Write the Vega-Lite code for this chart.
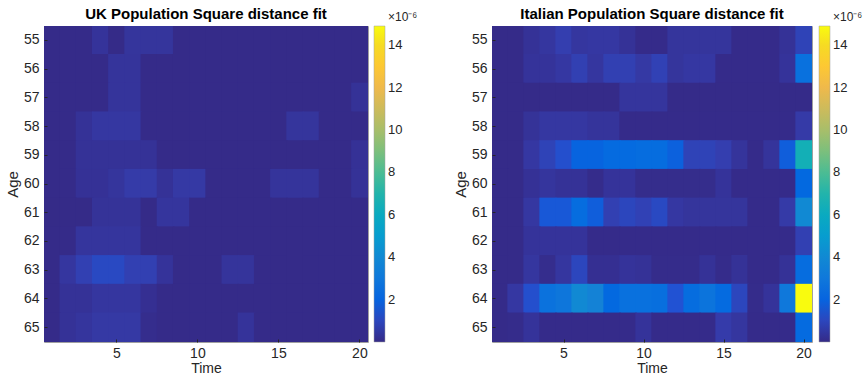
{
  "$schema": "https://vega.github.io/schema/vega-lite/v6.json",
  "padding": {"left": 4, "top": 6, "right": 0, "bottom": 0},
  "background": "white",
  "config": {
    "font": "Liberation Sans",
    "view": {"stroke": "#a0a0a0", "strokeWidth": 1},
    "axis": {"labelFontSize": 14, "labelColor": "#262626", "titleFontSize": 15, "titleFontWeight": "normal", "titleColor": "#262626", "domain": false, "grid": false, "tickColor": "#262626", "tickSize": -3, "labelPadding": 8},
    "axisX": {"labelPadding": 7, "titleFontSize": 14, "titlePadding": 1},
    "title": {"fontSize": 15, "fontWeight": "bold", "color": "#000000", "offset": -10, "frame": "group"}
  },
  "datasets": {
    "uk": [
      {"time":1,"age":55,"value":0.03},{"time":2,"age":55,"value":0.03},{"time":3,"age":55,"value":0.03},{"time":4,"age":55,"value":0.35},{"time":5,"age":55,"value":0.02},{"time":6,"age":55,"value":0.4},{"time":7,"age":55,"value":0.4},{"time":8,"age":55,"value":0.4},{"time":9,"age":55,"value":0.03},{"time":10,"age":55,"value":0.03},{"time":11,"age":55,"value":0.03},{"time":12,"age":55,"value":0.03},{"time":13,"age":55,"value":0.03},{"time":14,"age":55,"value":0.03},{"time":15,"age":55,"value":0.03},{"time":16,"age":55,"value":0.03},{"time":17,"age":55,"value":0.03},{"time":18,"age":55,"value":0.03},{"time":19,"age":55,"value":0.03},{"time":20,"age":55,"value":0.03},
      {"time":1,"age":56,"value":0.03},{"time":2,"age":56,"value":0.03},{"time":3,"age":56,"value":0.03},{"time":4,"age":56,"value":0.03},{"time":5,"age":56,"value":0.38},{"time":6,"age":56,"value":0.38},{"time":7,"age":56,"value":0.03},{"time":8,"age":56,"value":0.03},{"time":9,"age":56,"value":0.03},{"time":10,"age":56,"value":0.03},{"time":11,"age":56,"value":0.03},{"time":12,"age":56,"value":0.03},{"time":13,"age":56,"value":0.03},{"time":14,"age":56,"value":0.03},{"time":15,"age":56,"value":0.03},{"time":16,"age":56,"value":0.03},{"time":17,"age":56,"value":0.03},{"time":18,"age":56,"value":0.03},{"time":19,"age":56,"value":0.03},{"time":20,"age":56,"value":0.03},
      {"time":1,"age":57,"value":0.03},{"time":2,"age":57,"value":0.03},{"time":3,"age":57,"value":0.03},{"time":4,"age":57,"value":0.03},{"time":5,"age":57,"value":0.38},{"time":6,"age":57,"value":0.38},{"time":7,"age":57,"value":0.03},{"time":8,"age":57,"value":0.03},{"time":9,"age":57,"value":0.03},{"time":10,"age":57,"value":0.03},{"time":11,"age":57,"value":0.03},{"time":12,"age":57,"value":0.03},{"time":13,"age":57,"value":0.03},{"time":14,"age":57,"value":0.03},{"time":15,"age":57,"value":0.03},{"time":16,"age":57,"value":0.03},{"time":17,"age":57,"value":0.03},{"time":18,"age":57,"value":0.03},{"time":19,"age":57,"value":0.03},{"time":20,"age":57,"value":0.3},
      {"time":1,"age":58,"value":0.03},{"time":2,"age":58,"value":0.03},{"time":3,"age":58,"value":0.3},{"time":4,"age":58,"value":0.48},{"time":5,"age":58,"value":0.48},{"time":6,"age":58,"value":0.48},{"time":7,"age":58,"value":0.03},{"time":8,"age":58,"value":0.03},{"time":9,"age":58,"value":0.03},{"time":10,"age":58,"value":0.03},{"time":11,"age":58,"value":0.03},{"time":12,"age":58,"value":0.03},{"time":13,"age":58,"value":0.03},{"time":14,"age":58,"value":0.03},{"time":15,"age":58,"value":0.03},{"time":16,"age":58,"value":0.4},{"time":17,"age":58,"value":0.4},{"time":18,"age":58,"value":0.03},{"time":19,"age":58,"value":0.03},{"time":20,"age":58,"value":0.03},
      {"time":1,"age":59,"value":0.03},{"time":2,"age":59,"value":0.03},{"time":3,"age":59,"value":0.3},{"time":4,"age":59,"value":0.3},{"time":5,"age":59,"value":0.3},{"time":6,"age":59,"value":0.3},{"time":7,"age":59,"value":0.3},{"time":8,"age":59,"value":0.03},{"time":9,"age":59,"value":0.03},{"time":10,"age":59,"value":0.03},{"time":11,"age":59,"value":0.03},{"time":12,"age":59,"value":0.03},{"time":13,"age":59,"value":0.03},{"time":14,"age":59,"value":0.03},{"time":15,"age":59,"value":0.03},{"time":16,"age":59,"value":0.03},{"time":17,"age":59,"value":0.03},{"time":18,"age":59,"value":0.03},{"time":19,"age":59,"value":0.03},{"time":20,"age":59,"value":0.28},
      {"time":1,"age":60,"value":0.03},{"time":2,"age":60,"value":0.03},{"time":3,"age":60,"value":0.28},{"time":4,"age":60,"value":0.28},{"time":5,"age":60,"value":0.4},{"time":6,"age":60,"value":0.62},{"time":7,"age":60,"value":0.62},{"time":8,"age":60,"value":0.3},{"time":9,"age":60,"value":0.55},{"time":10,"age":60,"value":0.55},{"time":11,"age":60,"value":0.03},{"time":12,"age":60,"value":0.03},{"time":13,"age":60,"value":0.03},{"time":14,"age":60,"value":0.03},{"time":15,"age":60,"value":0.38},{"time":16,"age":60,"value":0.38},{"time":17,"age":60,"value":0.38},{"time":18,"age":60,"value":0.03},{"time":19,"age":60,"value":0.03},{"time":20,"age":60,"value":0.3},
      {"time":1,"age":61,"value":0.02},{"time":2,"age":61,"value":0.02},{"time":3,"age":61,"value":0.02},{"time":4,"age":61,"value":0.32},{"time":5,"age":61,"value":0.32},{"time":6,"age":61,"value":0.32},{"time":7,"age":61,"value":0.02},{"time":8,"age":61,"value":0.42},{"time":9,"age":61,"value":0.42},{"time":10,"age":61,"value":0.03},{"time":11,"age":61,"value":0.03},{"time":12,"age":61,"value":0.03},{"time":13,"age":61,"value":0.03},{"time":14,"age":61,"value":0.03},{"time":15,"age":61,"value":0.03},{"time":16,"age":61,"value":0.03},{"time":17,"age":61,"value":0.03},{"time":18,"age":61,"value":0.03},{"time":19,"age":61,"value":0.03},{"time":20,"age":61,"value":0.03},
      {"time":1,"age":62,"value":0.03},{"time":2,"age":62,"value":0.03},{"time":3,"age":62,"value":0.42},{"time":4,"age":62,"value":0.42},{"time":5,"age":62,"value":0.42},{"time":6,"age":62,"value":0.42},{"time":7,"age":62,"value":0.03},{"time":8,"age":62,"value":0.03},{"time":9,"age":62,"value":0.03},{"time":10,"age":62,"value":0.03},{"time":11,"age":62,"value":0.03},{"time":12,"age":62,"value":0.03},{"time":13,"age":62,"value":0.03},{"time":14,"age":62,"value":0.03},{"time":15,"age":62,"value":0.03},{"time":16,"age":62,"value":0.03},{"time":17,"age":62,"value":0.03},{"time":18,"age":62,"value":0.03},{"time":19,"age":62,"value":0.03},{"time":20,"age":62,"value":0.03},
      {"time":1,"age":63,"value":0.03},{"time":2,"age":63,"value":0.45},{"time":3,"age":63,"value":0.8},{"time":4,"age":63,"value":1.1},{"time":5,"age":63,"value":1.1},{"time":6,"age":63,"value":0.8},{"time":7,"age":63,"value":0.8},{"time":8,"age":63,"value":0.35},{"time":9,"age":63,"value":0.03},{"time":10,"age":63,"value":0.03},{"time":11,"age":63,"value":0.03},{"time":12,"age":63,"value":0.38},{"time":13,"age":63,"value":0.38},{"time":14,"age":63,"value":0.03},{"time":15,"age":63,"value":0.03},{"time":16,"age":63,"value":0.03},{"time":17,"age":63,"value":0.03},{"time":18,"age":63,"value":0.03},{"time":19,"age":63,"value":0.03},{"time":20,"age":63,"value":0.03},
      {"time":1,"age":64,"value":0.03},{"time":2,"age":64,"value":0.3},{"time":3,"age":64,"value":0.3},{"time":4,"age":64,"value":0.45},{"time":5,"age":64,"value":0.45},{"time":6,"age":64,"value":0.45},{"time":7,"age":64,"value":0.2},{"time":8,"age":64,"value":0.03},{"time":9,"age":64,"value":0.03},{"time":10,"age":64,"value":0.03},{"time":11,"age":64,"value":0.03},{"time":12,"age":64,"value":0.03},{"time":13,"age":64,"value":0.03},{"time":14,"age":64,"value":0.03},{"time":15,"age":64,"value":0.03},{"time":16,"age":64,"value":0.03},{"time":17,"age":64,"value":0.03},{"time":18,"age":64,"value":0.03},{"time":19,"age":64,"value":0.03},{"time":20,"age":64,"value":0.03},
      {"time":1,"age":65,"value":0.03},{"time":2,"age":65,"value":0.3},{"time":3,"age":65,"value":0.42},{"time":4,"age":65,"value":0.55},{"time":5,"age":65,"value":0.55},{"time":6,"age":65,"value":0.55},{"time":7,"age":65,"value":0.12},{"time":8,"age":65,"value":0.03},{"time":9,"age":65,"value":0.03},{"time":10,"age":65,"value":0.03},{"time":11,"age":65,"value":0.03},{"time":12,"age":65,"value":0.03},{"time":13,"age":65,"value":0.35},{"time":14,"age":65,"value":0.03},{"time":15,"age":65,"value":0.03},{"time":16,"age":65,"value":0.03},{"time":17,"age":65,"value":0.03},{"time":18,"age":65,"value":0.03},{"time":19,"age":65,"value":0.03},{"time":20,"age":65,"value":0.03}
    ],
    "it": [
      {"time":1,"age":55,"value":0.03},{"time":2,"age":55,"value":0.03},{"time":3,"age":55,"value":0.3},{"time":4,"age":55,"value":0.45},{"time":5,"age":55,"value":0.75},{"time":6,"age":55,"value":0.45},{"time":7,"age":55,"value":0.5},{"time":8,"age":55,"value":0.5},{"time":9,"age":55,"value":0.3},{"time":10,"age":55,"value":0.05},{"time":11,"age":55,"value":0.05},{"time":12,"age":55,"value":0.4},{"time":13,"age":55,"value":0.4},{"time":14,"age":55,"value":0.4},{"time":15,"age":55,"value":0.4},{"time":16,"age":55,"value":0.05},{"time":17,"age":55,"value":0.05},{"time":18,"age":55,"value":0.05},{"time":19,"age":55,"value":0.3},{"time":20,"age":55,"value":0.9},
      {"time":1,"age":56,"value":0.03},{"time":2,"age":56,"value":0.03},{"time":3,"age":56,"value":0.35},{"time":4,"age":56,"value":0.35},{"time":5,"age":56,"value":0.5},{"time":6,"age":56,"value":0.8},{"time":7,"age":56,"value":0.45},{"time":8,"age":56,"value":0.8},{"time":9,"age":56,"value":0.8},{"time":10,"age":56,"value":0.55},{"time":11,"age":56,"value":0.85},{"time":12,"age":56,"value":0.4},{"time":13,"age":56,"value":0.5},{"time":14,"age":56,"value":0.5},{"time":15,"age":56,"value":0.05},{"time":16,"age":56,"value":0.05},{"time":17,"age":56,"value":0.05},{"time":18,"age":56,"value":0.05},{"time":19,"age":56,"value":0.35},{"time":20,"age":56,"value":2.6},
      {"time":1,"age":57,"value":0.03},{"time":2,"age":57,"value":0.03},{"time":3,"age":57,"value":0.03},{"time":4,"age":57,"value":0.03},{"time":5,"age":57,"value":0.03},{"time":6,"age":57,"value":0.03},{"time":7,"age":57,"value":0.03},{"time":8,"age":57,"value":0.03},{"time":9,"age":57,"value":0.42},{"time":10,"age":57,"value":0.42},{"time":11,"age":57,"value":0.42},{"time":12,"age":57,"value":0.03},{"time":13,"age":57,"value":0.03},{"time":14,"age":57,"value":0.03},{"time":15,"age":57,"value":0.03},{"time":16,"age":57,"value":0.03},{"time":17,"age":57,"value":0.03},{"time":18,"age":57,"value":0.03},{"time":19,"age":57,"value":0.03},{"time":20,"age":57,"value":0.03},
      {"time":1,"age":58,"value":0.03},{"time":2,"age":58,"value":0.03},{"time":3,"age":58,"value":0.32},{"time":4,"age":58,"value":0.48},{"time":5,"age":58,"value":0.48},{"time":6,"age":58,"value":0.48},{"time":7,"age":58,"value":0.38},{"time":8,"age":58,"value":0.38},{"time":9,"age":58,"value":0.05},{"time":10,"age":58,"value":0.05},{"time":11,"age":58,"value":0.05},{"time":12,"age":58,"value":0.05},{"time":13,"age":58,"value":0.05},{"time":14,"age":58,"value":0.05},{"time":15,"age":58,"value":0.05},{"time":16,"age":58,"value":0.05},{"time":17,"age":58,"value":0.05},{"time":18,"age":58,"value":0.05},{"time":19,"age":58,"value":0.05},{"time":20,"age":58,"value":0.6},
      {"time":1,"age":59,"value":0.03},{"time":2,"age":59,"value":0.03},{"time":3,"age":59,"value":0.5},{"time":4,"age":59,"value":0.9},{"time":5,"age":59,"value":1.3},{"time":6,"age":59,"value":2.0},{"time":7,"age":59,"value":2.0},{"time":8,"age":59,"value":2.3},{"time":9,"age":59,"value":2.3},{"time":10,"age":59,"value":2.4},{"time":11,"age":59,"value":2.4},{"time":12,"age":59,"value":1.9},{"time":13,"age":59,"value":0.9},{"time":14,"age":59,"value":0.9},{"time":15,"age":59,"value":0.75},{"time":16,"age":59,"value":0.38},{"time":17,"age":59,"value":0.05},{"time":18,"age":59,"value":0.38},{"time":19,"age":59,"value":1.8},{"time":20,"age":59,"value":6.5},
      {"time":1,"age":60,"value":0.03},{"time":2,"age":60,"value":0.03},{"time":3,"age":60,"value":0.28},{"time":4,"age":60,"value":0.42},{"time":5,"age":60,"value":0.3},{"time":6,"age":60,"value":0.3},{"time":7,"age":60,"value":0.08},{"time":8,"age":60,"value":0.35},{"time":9,"age":60,"value":0.35},{"time":10,"age":60,"value":0.1},{"time":11,"age":60,"value":0.1},{"time":12,"age":60,"value":0.1},{"time":13,"age":60,"value":0.1},{"time":14,"age":60,"value":0.1},{"time":15,"age":60,"value":0.35},{"time":16,"age":60,"value":0.05},{"time":17,"age":60,"value":0.05},{"time":18,"age":60,"value":0.05},{"time":19,"age":60,"value":0.05},{"time":20,"age":60,"value":2.2},
      {"time":1,"age":61,"value":0.03},{"time":2,"age":61,"value":0.03},{"time":3,"age":61,"value":0.48},{"time":4,"age":61,"value":1.6},{"time":5,"age":61,"value":1.6},{"time":6,"age":61,"value":2.4},{"time":7,"age":61,"value":1.8},{"time":8,"age":61,"value":0.8},{"time":9,"age":61,"value":1.0},{"time":10,"age":61,"value":0.85},{"time":11,"age":61,"value":1.1},{"time":12,"age":61,"value":0.5},{"time":13,"age":61,"value":0.4},{"time":14,"age":61,"value":0.4},{"time":15,"age":61,"value":0.4},{"time":16,"age":61,"value":0.4},{"time":17,"age":61,"value":0.05},{"time":18,"age":61,"value":0.05},{"time":19,"age":61,"value":0.6},{"time":20,"age":61,"value":4.0},
      {"time":1,"age":62,"value":0.03},{"time":2,"age":62,"value":0.03},{"time":3,"age":62,"value":0.35},{"time":4,"age":62,"value":0.35},{"time":5,"age":62,"value":0.35},{"time":6,"age":62,"value":0.35},{"time":7,"age":62,"value":0.05},{"time":8,"age":62,"value":0.05},{"time":9,"age":62,"value":0.05},{"time":10,"age":62,"value":0.05},{"time":11,"age":62,"value":0.05},{"time":12,"age":62,"value":0.05},{"time":13,"age":62,"value":0.05},{"time":14,"age":62,"value":0.05},{"time":15,"age":62,"value":0.05},{"time":16,"age":62,"value":0.05},{"time":17,"age":62,"value":0.05},{"time":18,"age":62,"value":0.05},{"time":19,"age":62,"value":0.05},{"time":20,"age":62,"value":0.8},
      {"time":1,"age":63,"value":0.03},{"time":2,"age":63,"value":0.03},{"time":3,"age":63,"value":0.45},{"time":4,"age":63,"value":0.12},{"time":5,"age":63,"value":0.45},{"time":6,"age":63,"value":1.0},{"time":7,"age":63,"value":0.2},{"time":8,"age":63,"value":0.2},{"time":9,"age":63,"value":0.35},{"time":10,"age":63,"value":0.3},{"time":11,"age":63,"value":0.08},{"time":12,"age":63,"value":0.08},{"time":13,"age":63,"value":0.08},{"time":14,"age":63,"value":0.3},{"time":15,"age":63,"value":0.08},{"time":16,"age":63,"value":0.3},{"time":17,"age":63,"value":0.05},{"time":18,"age":63,"value":0.05},{"time":19,"age":63,"value":0.3},{"time":20,"age":63,"value":2.4},
      {"time":1,"age":64,"value":0.03},{"time":2,"age":64,"value":0.5},{"time":3,"age":64,"value":1.3},{"time":4,"age":64,"value":2.7},{"time":5,"age":64,"value":2.9},{"time":6,"age":64,"value":4.0},{"time":7,"age":64,"value":3.6},{"time":8,"age":64,"value":2.2},{"time":9,"age":64,"value":2.6},{"time":10,"age":64,"value":2.6},{"time":11,"age":64,"value":2.5},{"time":12,"age":64,"value":1.4},{"time":13,"age":64,"value":2.4},{"time":14,"age":64,"value":2.8},{"time":15,"age":64,"value":2.3},{"time":16,"age":64,"value":1.0},{"time":17,"age":64,"value":0.08},{"time":18,"age":64,"value":0.35},{"time":19,"age":64,"value":3.0},{"time":20,"age":64,"value":14.9},
      {"time":1,"age":65,"value":0.03},{"time":2,"age":65,"value":0.08},{"time":3,"age":65,"value":0.35},{"time":4,"age":65,"value":0.05},{"time":5,"age":65,"value":0.05},{"time":6,"age":65,"value":0.05},{"time":7,"age":65,"value":0.05},{"time":8,"age":65,"value":0.05},{"time":9,"age":65,"value":0.05},{"time":10,"age":65,"value":0.35},{"time":11,"age":65,"value":0.05},{"time":12,"age":65,"value":0.05},{"time":13,"age":65,"value":0.05},{"time":14,"age":65,"value":0.05},{"time":15,"age":65,"value":0.65},{"time":16,"age":65,"value":0.45},{"time":17,"age":65,"value":0.05},{"time":18,"age":65,"value":0.05},{"time":19,"age":65,"value":0.05},{"time":20,"age":65,"value":2.3}
    ]
  },
  "hconcat": [
    {
      "data": {"name": "uk"},
      "title": "UK Population Square distance fit",
      "width": 324,
      "height": 316,
      "mark": {"type": "rect", "width": {"band": 1.08}, "height": {"band": 1.05}, "clip": true},
      "encoding": {
        "x": {"field": "time", "type": "ordinal", "title": "Time", "axis": {"values": [5, 10, 15, 20], "labelAngle": 0}},
        "y": {"field": "age", "type": "ordinal", "title": "Age", "axis": {"titlePadding": 3}},
        "color": {
          "field": "value", "type": "quantitative",
          "scale": {"domain": [0, 14.9], "interpolate": "rgb", "range": ["#352a87","#353dad","#2053d4","#0268e1","#0d75dc","#1481d6","#108ed2","#079ccf","#06a7c6","#0faeb9","#25b5a9","#42bb98","#65be86","#87bf77","#a5be6b","#c0bc60","#d9ba56","#f1b94a","#ffc337","#fad32a","#f5de21","#f9fb0e"]},
          "legend": {"orient": "none", "direction": "vertical", "type": "gradient", "legendX": 330, "legendY": -14, "gradientLength": 316, "gradientThickness": 11, "values": [2, 4, 6, 8, 10, 12, 14], "labelOverlap": false, "labelFontSize": 13, "labelColor": "#262626", "labelOffset": 3, "title": "×10⁻⁶", "titleFontSize": 12, "titleFontWeight": "normal", "titleColor": "#262626", "titlePadding": 2, "titleAnchor": "middle", "titleAlign": "left", "gradientStrokeColor": "#a0a0a0", "gradientStrokeWidth": 0.5}
        }
      }
    },
    {
      "data": {"name": "it"},
      "title": "Italian Population Square distance fit",
      "width": 320,
      "height": 316,
      "mark": {"type": "rect", "width": {"band": 1.08}, "height": {"band": 1.05}, "clip": true},
      "encoding": {
        "x": {"field": "time", "type": "ordinal", "title": "Time", "axis": {"values": [5, 10, 15, 20], "labelAngle": 0}},
        "y": {"field": "age", "type": "ordinal", "title": "Age", "axis": {"titlePadding": 3}},
        "color": {
          "field": "value", "type": "quantitative",
          "scale": {"domain": [0, 14.9], "interpolate": "rgb", "range": ["#352a87","#353dad","#2053d4","#0268e1","#0d75dc","#1481d6","#108ed2","#079ccf","#06a7c6","#0faeb9","#25b5a9","#42bb98","#65be86","#87bf77","#a5be6b","#c0bc60","#d9ba56","#f1b94a","#ffc337","#fad32a","#f5de21","#f9fb0e"]},
          "legend": {"orient": "none", "direction": "vertical", "type": "gradient", "legendX": 327, "legendY": -14, "gradientLength": 316, "gradientThickness": 11, "values": [2, 4, 6, 8, 10, 12, 14], "labelOverlap": false, "labelFontSize": 13, "labelColor": "#262626", "labelOffset": 3, "title": "×10⁻⁶", "titleFontSize": 12, "titleFontWeight": "normal", "titleColor": "#262626", "titlePadding": 2, "titleAnchor": "middle", "titleAlign": "left", "gradientStrokeColor": "#a0a0a0", "gradientStrokeWidth": 0.5}
        }
      }
    }
  ],
  "resolve": {"scale": {"color": "independent"}},
  "spacing": 33
}
